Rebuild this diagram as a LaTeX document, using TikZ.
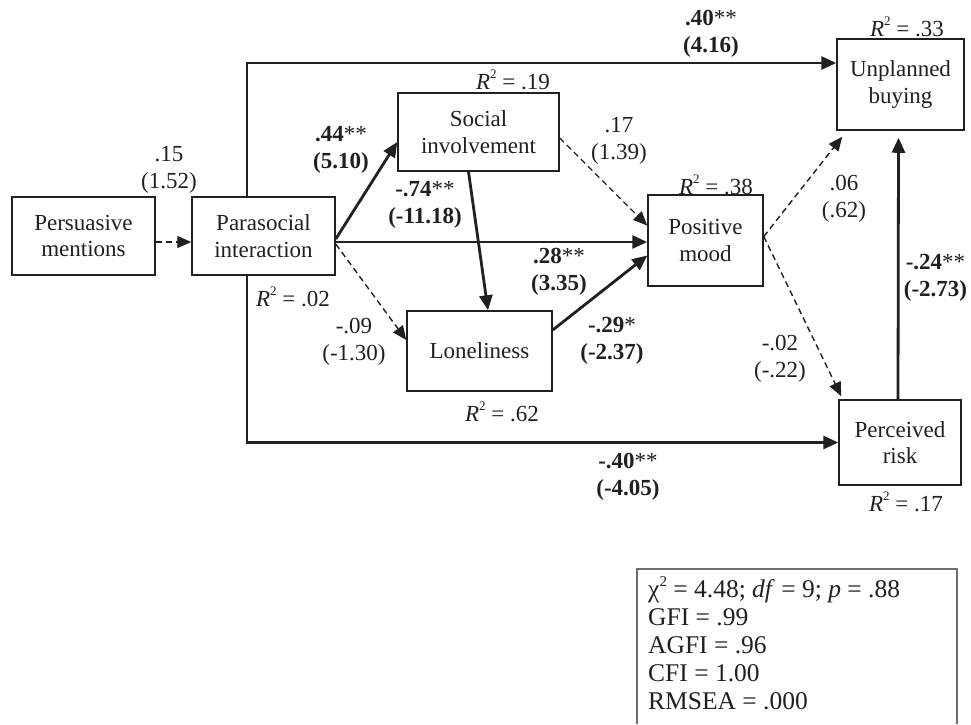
\documentclass[tikz,border=0pt]{standalone}
\usepackage{fontspec}
\setmainfont{Liberation Serif}
\usetikzlibrary{arrows.meta}
\definecolor{ink}{HTML}{231F20}
\definecolor{framegray}{HTML}{6D6E71}
\newcommand\Rsq{\textit{R}\raisebox{0.45em}{\fontsize{13}{13}\selectfont 2}}
\begin{document}
\begin{tikzpicture}[x=1pt,y=-1pt,
  every node/.style={text=ink, font=\fontsize{23}{27}\selectfont},
  box/.style={draw=ink, line width=1.5pt, inner sep=0pt, align=center, font=\fontsize{23}{26.5}\selectfont},
  lbl/.style={inner sep=0pt, align=center},
  solidarrow/.style={draw=ink, line width=2.8pt, -{Triangle[length=15pt,width=13pt]}},
  dasharrow/.style={draw=ink, line width=1.4pt, dash pattern=on 6pt off 4pt, -{Triangle[length=14pt,width=12pt]}}]
\useasboundingbox (0,0) rectangle (971,724);
\fill[white] (0,0) rectangle (971,724);

% boxes
\node[box, minimum width=143pt, minimum height=78pt] (pm) at (83.5,236) {Persuasive\\mentions};
\node[box, minimum width=143pt, minimum height=78pt] (pi) at (263.5,236) {Parasocial\\interaction};
\node[box, minimum width=161pt, minimum height=78pt] (si) at (478.5,132) {Social\\involvement};
\node[box, minimum width=115pt, minimum height=91pt] (mood) at (705.5,240.5) {Positive\\mood};
\node[box, minimum width=145pt, minimum height=80pt] (lon) at (479.5,351) {Loneliness};
\node[box, minimum width=127pt, minimum height=91pt] (ub) at (900.5,84.5) {Unplanned\\buying};
\node[box, minimum width=122pt, minimum height=85pt] (pr) at (900,442.5) {Perceived\\risk};

% connectors
\draw[dasharrow] ([yshift=-6pt]pm.east) -- ([yshift=-6pt]pi.west);
\draw[solidarrow] ([yshift=-6pt]pi.east) -- ([yshift=-6pt]pi.east -| mood.west);
\draw[solidarrow] ([yshift=-3pt]pi.east) -- ([yshift=-10pt]si.west);
\draw[dasharrow] ([yshift=-8pt]pi.east) -- ([yshift=11pt]lon.west);
\draw[solidarrow] ([xshift=-10pt]si.south) -- ([xshift=8.5pt]lon.north);
\draw[dasharrow] ([yshift=-6pt]si.east) -- ([yshift=15pt]mood.west);
\draw[solidarrow] ([yshift=21pt]lon.east) -- ([yshift=-15pt]mood.west);
\draw[dasharrow] ([yshift=4pt]mood.east) -- ([shift={(6pt,-6pt)}]ub.south west);
\draw[dasharrow] ([yshift=4pt]mood.east) -- ([shift={(3pt,3pt)}]pr.north west);
\draw[solidarrow] ([xshift=-2pt]pr.north) -- ([xshift=-2pt,yshift=-7pt]ub.south);
\draw[solidarrow] ([xshift=-16.5pt]pi.north) |- ([yshift=21.5pt]ub.west);
\draw[solidarrow] ([xshift=-16.5pt]pi.south) |- (pr.west);

% path labels
\node[lbl] (l15) at (169,170) {.15\\(1.52)};
\node[lbl] (l44) at (341,150) {\textbf{.44}**\\\textbf{(5.10)}};
\node[lbl] (l74) at (425,204.5) {\textbf{-.74}**\\\textbf{(-11.18)}};
\node[lbl] (l17) at (619,140.5) {.17\\(1.39)};
\node[lbl] (l28) at (559,272) {\textbf{.28}**\\\textbf{(3.35)}};
\node[lbl] (l09) at (354,341.5) {-.09\\(-1.30)};
\node[lbl] (l29) at (612,340.5) {\textbf{-.29}*\\\textbf{(-2.37)}};
\node[lbl] (l40t) at (711,34) {\textbf{.40}**\\\textbf{(4.16)}};
\node[lbl] (l06) at (844,198.5) {.06\\(.62)};
\node[lbl] (l24) at (935.5,278) {\textbf{-.24}**\\\textbf{(-2.73)}};
\node[lbl] (l02) at (780,358.5) {-.02\\(-.22)};
\node[lbl] (l40b) at (628,476.5) {\textbf{-.40}**\\\textbf{(-4.05)}};

% R squared labels
\node[lbl] (r02) at (293,297) {\Rsq{} = .02};
\node[lbl] (r19) at (513,80) {\Rsq{} = .19};
\node[lbl] (r38) at (716,185) {\Rsq{} = .38};
\node[lbl] (r62) at (502,412) {\Rsq{} = .62};
\node[lbl] (r33) at (907,27) {\Rsq{} = .33};
\node[lbl] (r17) at (906,502) {\Rsq{} = .17};

% fit box
\draw[framegray, line width=1.2pt] (637,724) -- (637,569) -- (957,569) -- (957,724);
\node[inner sep=0pt, align=left, anchor=north west, font=\fontsize{25.5}{28}\selectfont] (fit) at (648,576)
  {χ\raisebox{0.45em}{\fontsize{15}{15}\selectfont 2} = 4.48; \textit{df} = 9; \textit{p} = .88\\
   GFI = .99\\
   AGFI = .96\\
   CFI = 1.00\\
   RMSEA = .000};
\end{tikzpicture}
\end{document}
